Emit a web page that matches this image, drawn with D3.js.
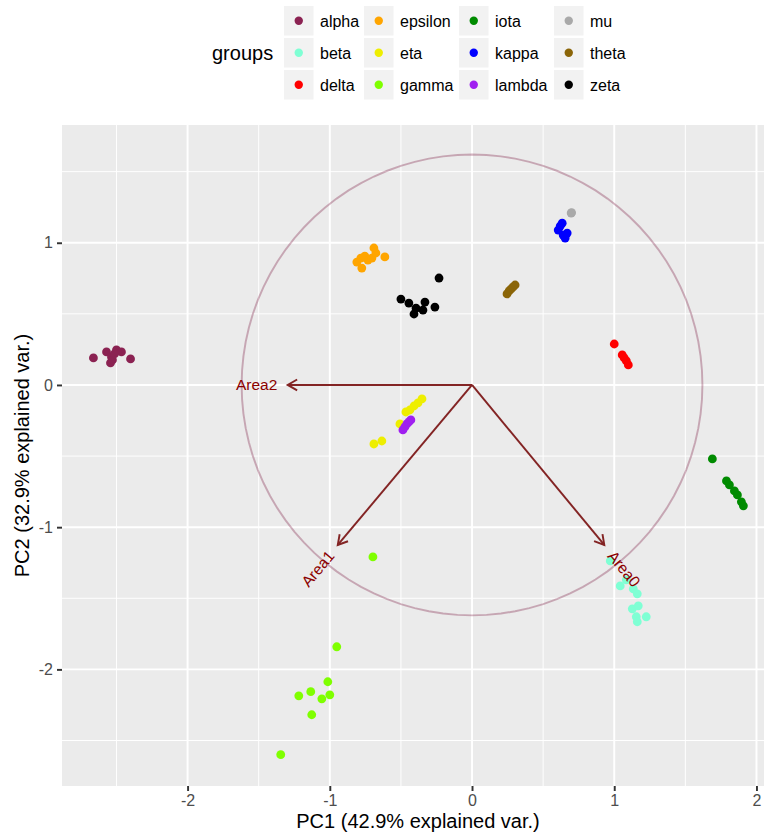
<!DOCTYPE html>
<html>
<head>
<meta charset="utf-8">
<script src="https://cdn.jsdelivr.net/npm/d3@7"></script>
<style>
  html, body { margin: 0; padding: 0; background: #ffffff; }
  svg { display: block; font-family: "Liberation Sans", Arial, Helvetica, sans-serif; }
</style>
</head>
<body>
<svg id="chart" width="764" height="834"></svg>
<script>
// PCA scores per group: [PC1, PC2]
const alpha   = [[-2.662, 0.190], [-2.570, 0.232], [-2.535, 0.197], [-2.542, 0.155], [-2.500, 0.246], [-2.465, 0.232], [-2.401, 0.183], [-2.528, 0.176], [-2.514, 0.218]];
const beta    = [[0.972, -1.237], [1.042, -1.413], [1.085, -1.370], [1.134, -1.434], [1.162, -1.469], [1.127, -1.574], [1.169, -1.553], [1.155, -1.630], [1.225, -1.630], [1.162, -1.665]];
const delta   = [[1.000, 0.288], [1.056, 0.211], [1.070, 0.190], [1.085, 0.169], [1.099, 0.141]];
const epsilon = [[-0.810, 0.864], [-0.782, 0.892], [-0.775, 0.822], [-0.754, 0.906], [-0.732, 0.878], [-0.704, 0.892], [-0.690, 0.963], [-0.676, 0.928], [-0.613, 0.900]];
const eta     = [[-0.690, -0.415], [-0.634, -0.394], [-0.507, -0.274], [-0.465, -0.190], [-0.437, -0.176], [-0.408, -0.148], [-0.380, -0.126], [-0.352, -0.098]];
const gamma   = [[-0.697, -1.209], [-0.951, -1.841], [-1.014, -2.087], [-1.134, -2.157], [-1.218, -2.186], [-1.056, -2.207], [-1.000, -2.179], [-1.127, -2.319], [-1.345, -2.600]];
const iota    = [[1.690, -0.520], [1.789, -0.675], [1.810, -0.703], [1.845, -0.745], [1.866, -0.773], [1.894, -0.822], [1.908, -0.850]];
const kappa   = [[0.606, 1.089], [0.620, 1.117], [0.634, 1.138], [0.641, 1.054], [0.655, 1.033], [0.669, 1.068]];
const lambda  = [[-0.486, -0.316], [-0.472, -0.295], [-0.458, -0.274], [-0.444, -0.260], [-0.430, -0.246]];
const mu      = [[0.697, 1.209], [0.700, 1.212]];
const theta   = [[0.246, 0.640], [0.261, 0.661], [0.275, 0.675], [0.289, 0.689], [0.303, 0.703]];
const zeta    = [[-0.500, 0.604], [-0.444, 0.576], [-0.408, 0.499], [-0.394, 0.541], [-0.345, 0.527], [-0.331, 0.583], [-0.261, 0.548], [-0.232, 0.752]];

const groupNames  = ["alpha", "beta", "delta", "epsilon", "eta", "gamma", "iota", "kappa", "lambda", "mu", "theta", "zeta"];
const groupScores = [alpha, beta, delta, epsilon, eta, gamma, iota, kappa, lambda, mu, theta, zeta];
const groupColors = ["#8B2252", "#7FFFD4", "#FF0000", "#FFA500", "#EEEE00", "#7FFF00", "#008B00", "#0000FF", "#A020F0", "#A9A9A9", "#8B6508", "#000000"];

// Variable loadings (arrows)
const varNames = ["Area0", "Area1", "Area2"];
const varPC1   = [0.930, -0.944, -1.296];
const varPC2   = [-1.125, -1.125, 0.000];
const circleRadius = 1.62;

// Axis setup
const xTicks = [-2, -1, 0, 1, 2];
const yTicks = [-2, -1, 0, 1];
const xMinorTicks = [-2.5, -1.5, -0.5, 0.5, 1.5];
const yMinorTicks = [-2.5, -1.5, -0.5, 0.5, 1.5];
const xDomain = [-2.883, 2.053];
const yDomain = [-2.820, 1.828];
const xTitle = "PC1 (42.9% explained var.)";
const yTitle = "PC2 (32.9% explained var.)";
const legendTitle = "groups";

const svg = d3.select("#chart");
const panel = { left: 62, right: 764, top: 125, bottom: 786 };

const x = d3.scaleLinear().domain(xDomain).range([panel.left, panel.right]);
const y = d3.scaleLinear().domain(yDomain).range([panel.bottom, panel.top]);
const color = d3.scaleOrdinal().domain(groupNames).range(groupColors);

// Panel background
svg.append("rect")
  .attr("x", panel.left).attr("y", panel.top)
  .attr("width", panel.right - panel.left).attr("height", panel.bottom - panel.top)
  .attr("fill", "#EBEBEB");

const grid = svg.append("g");
grid.selectAll("line.vminor").data(xMinorTicks).join("line")
  .attr("x1", d => x(d)).attr("x2", d => x(d))
  .attr("y1", panel.top).attr("y2", panel.bottom)
  .attr("stroke", "#ffffff").attr("stroke-width", 0.97);
grid.selectAll("line.hminor").data(yMinorTicks).join("line")
  .attr("y1", d => y(d)).attr("y2", d => y(d))
  .attr("x1", panel.left).attr("x2", panel.right)
  .attr("stroke", "#ffffff").attr("stroke-width", 0.97);
grid.selectAll("line.vmajor").data(xTicks).join("line")
  .attr("x1", d => x(d)).attr("x2", d => x(d))
  .attr("y1", panel.top).attr("y2", panel.bottom)
  .attr("stroke", "#ffffff").attr("stroke-width", 1.94);
grid.selectAll("line.hmajor").data(yTicks).join("line")
  .attr("y1", d => y(d)).attr("y2", d => y(d))
  .attr("x1", panel.left).attr("x2", panel.right)
  .attr("stroke", "#ffffff").attr("stroke-width", 1.94);

// Axes
const xAxis = d3.axisBottom(x).tickValues(xTicks).tickSize(5).tickPadding(4).tickFormat(d3.format("d"));
const yAxis = d3.axisLeft(y).tickValues(yTicks).tickSize(5).tickPadding(4).tickFormat(d3.format("d"));

const gx = svg.append("g").attr("transform", `translate(0,${panel.bottom})`).call(xAxis);
const gy = svg.append("g").attr("transform", `translate(${panel.left},0)`).call(yAxis);
[gx, gy].forEach(g => {
  g.select(".domain").remove();
  g.selectAll(".tick line").attr("stroke", "#333333").attr("stroke-width", 1.94);
  g.selectAll(".tick text")
    .attr("fill", "#4D4D4D")
    .style("font-size", "16px")
    .style("font-family", "'Liberation Sans', Arial, sans-serif");
});
gx.selectAll(".tick text").text(d => d < 0 ? "-" + Math.abs(d) : d);
gy.selectAll(".tick text").text(d => d < 0 ? "-" + Math.abs(d) : d);

// Axis titles
svg.append("text")
  .attr("x", (panel.left + panel.right) / 2 + 5).attr("y", 828)
  .attr("text-anchor", "middle")
  .style("font-size", "20px").attr("fill", "#000000")
  .text(xTitle);
svg.append("text")
  .attr("transform", `translate(29,${(panel.top + panel.bottom) / 2}) rotate(-90)`)
  .attr("text-anchor", "middle")
  .style("font-size", "20px").attr("fill", "#000000")
  .text(yTitle);

// Plot content clipped to panel
svg.append("clipPath").attr("id", "panel-clip")
  .append("rect")
  .attr("x", panel.left).attr("y", panel.top)
  .attr("width", panel.right - panel.left).attr("height", panel.bottom - panel.top);
const plot = svg.append("g").attr("clip-path", "url(#panel-clip)");

// Correlation circle
const circlePts = d3.range(0, 101).map(i => {
  const t = (i / 100) * 2 * Math.PI;
  return [circleRadius * Math.cos(t), circleRadius * Math.sin(t)];
});
plot.append("path")
  .datum(circlePts)
  .attr("d", d3.line().x(d => x(d[0])).y(d => y(d[1])))
  .attr("fill", "none")
  .attr("stroke", "#7F1F45")
  .attr("stroke-opacity", 1 / 3)
  .attr("stroke-width", 1.94);

// Loading arrows
const arrowLen = 10.9;
const arrowAngle = Math.PI / 6;
const arrows = plot.append("g");
varNames.forEach((name, i) => {
  const x0 = x(0), y0 = y(0);
  const x1 = x(varPC1[i]), y1 = y(varPC2[i]);
  const a = Math.atan2(y1 - y0, x1 - x0);
  const h1 = [x1 - arrowLen * Math.cos(a - arrowAngle), y1 - arrowLen * Math.sin(a - arrowAngle)];
  const h2 = [x1 - arrowLen * Math.cos(a + arrowAngle), y1 - arrowLen * Math.sin(a + arrowAngle)];
  arrows.append("line")
    .attr("x1", x0).attr("y1", y0).attr("x2", x1).attr("y2", y1)
    .attr("stroke", "#832424").attr("stroke-width", 1.94);
  arrows.append("path")
    .attr("d", `M${h1[0]},${h1[1]}L${x1},${y1}L${h2[0]},${h2[1]}`)
    .attr("fill", "none")
    .attr("stroke", "#832424").attr("stroke-width", 1.94)
    .attr("stroke-linejoin", "miter");
});

// Scores
groupNames.forEach((g, gi) => {
  plot.append("g").selectAll("circle").data(groupScores[gi]).join("circle")
    .attr("cx", d => x(d[0])).attr("cy", d => y(d[1]))
    .attr("r", 4.4)
    .attr("fill", color(g));
});

// Loading labels
varNames.forEach((name, i) => {
  const vx = varPC1[i], vy = varPC2[i];
  const angle = (180 / Math.PI) * Math.atan(vy / vx);
  const hjust = (1 - 1.5 * Math.sign(vx)) / 2;
  const t = plot.append("text")
    .attr("transform", `translate(${x(vx)},${y(vy)}) rotate(${-angle})`)
    .attr("dy", "0.35em")
    .attr("fill", "#8B0000")
    .style("font-size", "15.5px")
    .text(name);
  const w = t.node().getComputedTextLength();
  t.attr("x", -hjust * w);
});

// Legend
const legend = svg.append("g");
legend.append("text")
  .attr("x", 212).attr("y", 60)
  .style("font-size", "20px").attr("fill", "#000000")
  .text(legendTitle);
const colX = [284, 364, 459, 554];
const rowY = [6, 38, 70];
const keySize = 29.5;
groupNames.forEach((g, i) => {
  const col = Math.floor(i / 3), row = i % 3;
  const kx = colX[col], ky = rowY[row];
  legend.append("rect")
    .attr("x", kx).attr("y", ky).attr("width", keySize).attr("height", keySize)
    .attr("fill", "#F2F2F2");
  legend.append("circle")
    .attr("cx", kx + keySize / 2).attr("cy", ky + keySize / 2).attr("r", 4.2)
    .attr("fill", color(g));
  legend.append("text")
    .attr("x", kx + keySize + 6.5).attr("y", ky + keySize / 2 + 6)
    .style("font-size", "16px").attr("fill", "#000000")
    .text(g);
});
</script>
</body>
</html>
